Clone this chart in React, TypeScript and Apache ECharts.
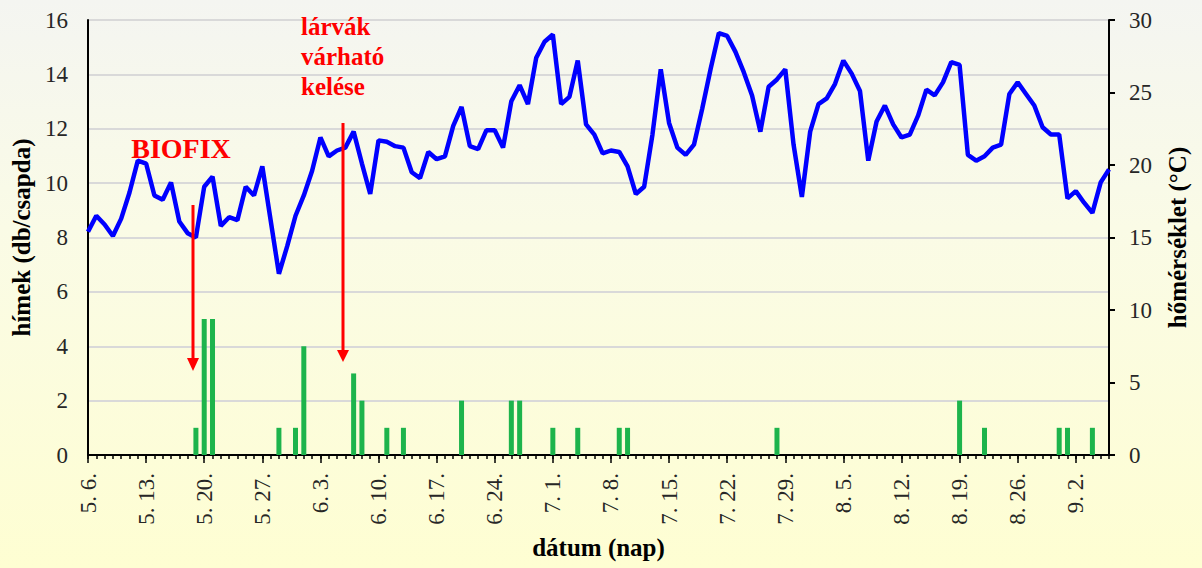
import React, { useEffect, useRef } from "react";
import * as echarts from "echarts";

// Days from 5.6. to 9.6. (124 days)
const startMonth = 5;
const startDay = 6;
const dayCount = 124;
const monthLengths: Record<number, number> = { 5: 31, 6: 30, 7: 31, 8: 31, 9: 30 };

const dateLabels: string[] = (() => {
  const out: string[] = [];
  let m = startMonth;
  let d = startDay;
  for (let i = 0; i < dayCount; i++) {
    out.push(`${m}. ${d}.`);
    d++;
    if (d > monthLengths[m]) {
      d = 1;
      m++;
    }
  }
  return out;
})();

// hímek (db/csapda) – daily trap catch
const catchCounts = [
  0, 0, 0, 0, 0, 0, 0, 0, 0, 0,
  0, 0, 0, 1, 5, 5, 0, 0, 0, 0,
  0, 0, 0, 1, 0, 1, 4, 0, 0, 0,
  0, 0, 3, 2, 0, 0, 1, 0, 1, 0,
  0, 0, 0, 0, 0, 2, 0, 0, 0, 0,
  0, 2, 2, 0, 0, 0, 1, 0, 0, 1,
  0, 0, 0, 0, 1, 1, 0, 0, 0, 0,
  0, 0, 0, 0, 0, 0, 0, 0, 0, 0,
  0, 0, 0, 1, 0, 0, 0, 0, 0, 0,
  0, 0, 0, 0, 0, 0, 0, 0, 0, 0,
  0, 0, 0, 0, 0, 2, 0, 0, 1, 0,
  0, 0, 0, 0, 0, 0, 0, 1, 1, 0,
  0, 1, 0, 0,
];

// hőmérséklet (°C) – daily temperature
const temperature = [
  15.4, 16.5, 15.9, 15.1, 16.3, 18.1, 20.3, 20.1, 17.9, 17.6,
  18.8, 16.1, 15.3, 15.0, 18.5, 19.2, 15.8, 16.4, 16.2, 18.5,
  17.9, 19.9, 16.2, 12.5, 14.4, 16.5, 17.9, 19.6, 21.9, 20.6,
  21.0, 21.2, 22.3, 20.1, 18.0, 21.7, 21.6, 21.3, 21.2, 19.5,
  19.1, 20.9, 20.4, 20.6, 22.7, 24.0, 21.3, 21.1, 22.4, 22.4,
  21.2, 24.4, 25.5, 24.2, 27.4, 28.5, 29.0, 24.2, 24.7, 27.2,
  22.8, 22.1, 20.8, 21.0, 20.9, 19.9, 18.0, 18.5, 22.1, 26.6,
  22.9, 21.2, 20.7, 21.4, 23.9, 26.6, 29.1, 28.9, 27.8, 26.4,
  24.8, 22.3, 25.4, 25.9, 26.6, 21.4, 17.8, 22.3, 24.2, 24.6,
  25.6, 27.2, 26.3, 25.1, 20.3, 23.0, 24.1, 22.8, 21.9, 22.1,
  23.4, 25.2, 24.8, 25.7, 27.1, 26.9, 20.7, 20.3, 20.6, 21.2,
  21.4, 24.9, 25.7, 24.9, 24.1, 22.6, 22.1, 22.1, 17.7, 18.2,
  17.4, 16.7, 18.8, 19.7,
];

const SERIF = "'Liberation Serif', 'Times New Roman', serif";

export default function App() {
  const ref = useRef<HTMLDivElement>(null);

  useEffect(() => {
    if (!ref.current) return;
    const chart = echarts.init(ref.current, null, { renderer: "svg" });
    chart.setOption({
      animation: false,
      backgroundColor: "transparent",
      grid: { left: 88, right: 93, top: 20, bottom: 113, containLabel: false },
      xAxis: [
        {
          type: "category",
          data: dateLabels,
          boundaryGap: false,
          axisLine: { show: true, lineStyle: { color: "#000", width: 2 } },
          axisTick: { show: true, interval: 0, length: 4, lineStyle: { color: "#000", width: 1.5 } },
          axisLabel: {
            interval: 6,
            rotate: 90,
            margin: 18,
            fontFamily: SERIF,
            fontSize: 23,
            color: "#262626",
          },
          splitLine: { show: false },
          name: "dátum (nap)",
          nameLocation: "middle",
          nameGap: 80,
          nameTextStyle: { fontFamily: SERIF, fontSize: 25, fontWeight: "bold", color: "#000" },
        },
        {
          type: "category",
          data: dateLabels,
          boundaryGap: false,
          position: "bottom",
          axisLine: { show: false },
          axisTick: { show: true, interval: 6, length: 8, lineStyle: { color: "#000", width: 1.5 } },
          axisLabel: { show: false },
          splitLine: { show: false },
        },
      ],
      yAxis: [
        {
          type: "value",
          min: 0,
          max: 16,
          interval: 2,
          position: "left",
          axisLine: { show: true, lineStyle: { color: "#000", width: 2 } },
          axisTick: { show: false },
          axisLabel: { margin: 20, fontFamily: SERIF, fontSize: 23, color: "#262626" },
          splitLine: { show: true, lineStyle: { color: "#d9d9d9", width: 2 } },
          name: "hímek (db/csapda)",
          nameLocation: "middle",
          nameRotate: 90,
          nameGap: 54,
          nameTextStyle: { fontFamily: SERIF, fontSize: 25, fontWeight: "bold", color: "#000" },
        },
        {
          type: "value",
          min: 0,
          max: 30,
          interval: 5,
          position: "right",
          axisLine: { show: true, lineStyle: { color: "#000", width: 2 } },
          axisTick: { show: true, inside: false, length: 6, lineStyle: { color: "#000", width: 2 } },
          axisLabel: { margin: 20, fontFamily: SERIF, fontSize: 23, color: "#262626" },
          splitLine: { show: false },
          name: "hőmérséklet (°C)",
          nameLocation: "middle",
          nameRotate: 90,
          nameGap: 56,
          nameTextStyle: { fontFamily: SERIF, fontSize: 25, fontWeight: "bold", color: "#000" },
        },
      ],
      series: [
        {
          name: "hímek",
          type: "bar",
          xAxisIndex: 0,
          yAxisIndex: 0,
          data: catchCounts,
          barWidth: 5,
          itemStyle: { color: "#1db44c", borderColor: "#00a84a", borderWidth: 0 },
          z: 2,
        },
        {
          name: "hőmérséklet",
          type: "line",
          xAxisIndex: 0,
          yAxisIndex: 1,
          data: temperature,
          symbol: "none",
          lineStyle: { color: "#0000ff", width: 4.5 },
          z: 3,
        },
      ],
      graphic: [
        {
          type: "text",
          x: 181,
          y: 148,
          style: {
            text: "BIOFIX",
            font: `bold 28px ${SERIF}`,
            fill: "#ff0000",
            align: "center",
            verticalAlign: "middle",
          },
          z: 10,
        },
        {
          type: "text",
          x: 301,
          y: 11,
          style: {
            text: "lárvák\nvárható\nkelése",
            font: `bold 25px ${SERIF}`,
            lineHeight: 30,
            fill: "#ff0000",
            align: "left",
            verticalAlign: "top",
          },
          z: 10,
        },
        {
          type: "line",
          shape: { x1: 193, y1: 205, x2: 193, y2: 360 },
          style: { stroke: "#ff0000", lineWidth: 3 },
          z: 10,
        },
        {
          type: "polygon",
          shape: { points: [[187, 358], [199, 358], [193, 371]] },
          style: { fill: "#ff0000" },
          z: 10,
        },
        {
          type: "line",
          shape: { x1: 343, y1: 123, x2: 343, y2: 352 },
          style: { stroke: "#ff0000", lineWidth: 3 },
          z: 10,
        },
        {
          type: "polygon",
          shape: { points: [[337, 350], [349, 350], [343, 362]] },
          style: { fill: "#ff0000" },
          z: 10,
        },
      ],
    });
    return () => chart.dispose();
  }, []);

  return (
    <div
      style={{
        position: "absolute",
        left: 0,
        top: 0,
        width: 1202,
        height: 568,
        background: "linear-gradient(to bottom, #f4f5f1 0%, #fafbe6 40%, #fefed2 100%)",
      }}
    >
      <div ref={ref} style={{ width: 1202, height: 568 }} />
    </div>
  );
}
